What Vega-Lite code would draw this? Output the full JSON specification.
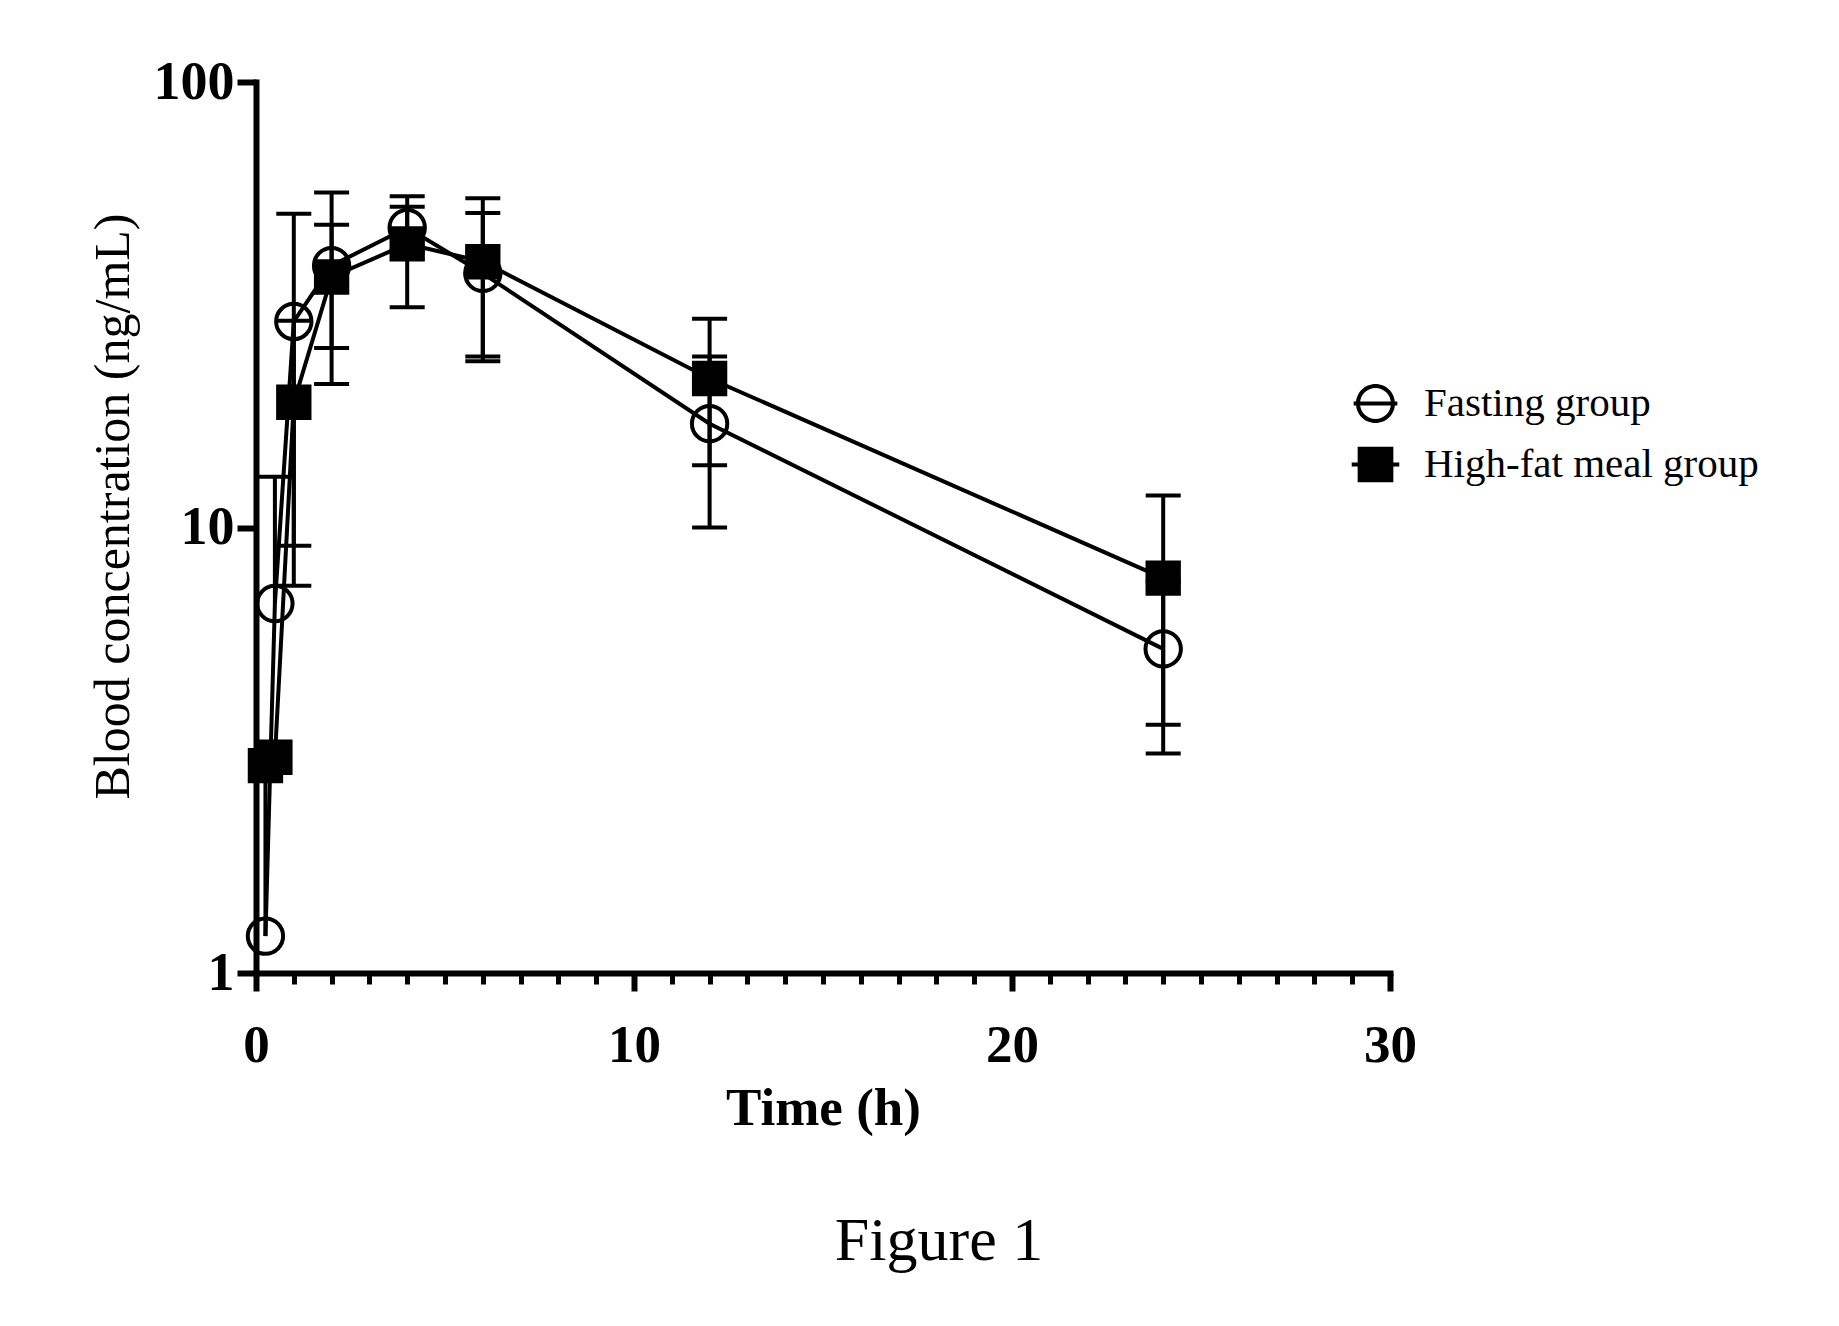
{
  "$schema": "https://vega.github.io/schema/vega-lite/v6.json",
  "width": 1134,
  "height": 891,
  "autosize": {"type": "none"},
  "padding": {"left": 256, "top": 82, "right": 449, "bottom": 353},
  "background": "white",
  "title": {
    "text": "Figure 1",
    "orient": "bottom",
    "anchor": "middle",
    "frame": "group",
    "font": "Liberation Serif",
    "fontSize": 62,
    "fontWeight": "normal",
    "color": "black",
    "baseline": "alphabetic",
    "offset": 125,
    "dx": 116
  },
  "config": {
    "view": {"stroke": null},
    "axis": {
      "grid": false,
      "labelFont": "Liberation Serif",
      "titleFont": "Liberation Serif",
      "labelColor": "black",
      "titleColor": "black",
      "domainColor": "black",
      "tickColor": "black"
    }
  },
  "data": {
    "values": [
      {"group": "Fasting group", "t": 0.25, "mean": 1.21, "lo": null, "hi": 2.72},
      {"group": "Fasting group", "t": 0.5, "mean": 6.75, "lo": null, "hi": 13.0},
      {"group": "Fasting group", "t": 1, "mean": 29.0, "lo": 7.4, "hi": 50.6},
      {"group": "Fasting group", "t": 2, "mean": 38.7, "lo": 21.0, "hi": 56.5},
      {"group": "Fasting group", "t": 4, "mean": 47.1, "lo": 41.7, "hi": 52.5},
      {"group": "Fasting group", "t": 6, "mean": 37.2, "lo": 23.6, "hi": 50.8},
      {"group": "Fasting group", "t": 12, "mean": 17.1, "lo": 10.0, "hi": 24.2},
      {"group": "Fasting group", "t": 24, "mean": 5.34, "lo": 3.11, "hi": 7.57},
      {"group": "High-fat meal group", "t": 0.25, "mean": 2.92, "lo": null, "hi": null},
      {"group": "High-fat meal group", "t": 0.5, "mean": 3.05, "lo": null, "hi": null},
      {"group": "High-fat meal group", "t": 1, "mean": 19.1, "lo": 9.1, "hi": 29.1},
      {"group": "High-fat meal group", "t": 2, "mean": 36.5, "lo": 25.3, "hi": 47.8},
      {"group": "High-fat meal group", "t": 4, "mean": 43.3, "lo": 31.2, "hi": 55.4},
      {"group": "High-fat meal group", "t": 6, "mean": 39.5, "lo": 24.2, "hi": 54.8},
      {"group": "High-fat meal group", "t": 12, "mean": 21.6, "lo": 13.8, "hi": 29.4},
      {"group": "High-fat meal group", "t": 24, "mean": 7.70, "lo": 3.61, "hi": 11.8}
    ]
  },
  "resolve": {"scale": {"shape": "independent"}},
  "layer": [
    {
      "mark": {"type": "line", "color": "black", "strokeWidth": 4},
      "encoding": {
        "x": {
          "field": "t",
          "type": "quantitative",
          "scale": {"domain": [0, 30], "nice": false, "zero": false},
          "axis": {
            "values": [0,1,2,3,4,5,6,7,8,9,10,11,12,13,14,15,16,17,18,19,20,21,22,23,24,25,26,27,28,29,30],
            "tickCount": 100,
            "format": "d",
            "tickSize": {"condition": {"test": "datum.value % 10 === 0", "value": 18}, "value": 11},
            "tickWidth": {"condition": {"test": "datum.value % 10 === 0", "value": 6}, "value": 5},
            "labelExpr": "datum.value % 10 === 0 ? datum.label : ''",
            "labelOverlap": false,
            "labelFlush": false,
            "labelFontSize": 53,
            "labelFontWeight": "bold",
            "labelPadding": 28,
            "domainWidth": 6,
            "domainCap": "square",
            "title": "Time (h)",
            "titleFontSize": 53,
            "titleFontWeight": "bold",
            "titleBaseline": "alphabetic",
            "titleY": 151
          }
        },
        "y": {
          "field": "mean",
          "type": "quantitative",
          "scale": {"type": "log", "domain": [1, 100], "nice": false},
          "axis": {
            "values": [1, 10, 100],
            "format": "d",
            "tickSize": 19,
            "tickWidth": 6,
            "labelFontSize": 54,
            "labelFontWeight": "bold",
            "labelPadding": 3,
            "domainWidth": 6,
            "domainCap": "square",
            "title": "Blood concentration (ng/mL)",
            "titleFontSize": 50,
            "titleFontWeight": "normal",
            "titleAngle": -90,
            "titleAlign": "center",
            "titleBaseline": "alphabetic",
            "titleX": -128,
            "titleY": 424
          }
        },
        "detail": {"field": "group", "type": "nominal"}
      }
    },
    {
      "transform": [{"filter": "isValid(datum.hi)"}],
      "mark": {"type": "rule", "color": "black", "strokeWidth": 4},
      "encoding": {
        "x": {"field": "t", "type": "quantitative"},
        "y": {"field": "mean", "type": "quantitative"},
        "y2": {"field": "hi"}
      }
    },
    {
      "transform": [{"filter": "isValid(datum.lo)"}],
      "mark": {"type": "rule", "color": "black", "strokeWidth": 4},
      "encoding": {
        "x": {"field": "t", "type": "quantitative"},
        "y": {"field": "lo", "type": "quantitative"},
        "y2": {"field": "mean"}
      }
    },
    {
      "transform": [{"filter": "isValid(datum.hi)"}],
      "mark": {"type": "tick", "orient": "horizontal", "size": 35, "thickness": 4, "color": "black", "opacity": 1},
      "encoding": {
        "x": {"field": "t", "type": "quantitative"},
        "y": {"field": "hi", "type": "quantitative"}
      }
    },
    {
      "transform": [{"filter": "isValid(datum.lo)"}],
      "mark": {"type": "tick", "orient": "horizontal", "size": 35, "thickness": 4, "color": "black", "opacity": 1},
      "encoding": {
        "x": {"field": "t", "type": "quantitative"},
        "y": {"field": "lo", "type": "quantitative"}
      }
    },
    {
      "mark": {"type": "point", "filled": true, "fill": "black", "strokeWidth": 4, "size": 1250, "opacity": 1},
      "encoding": {
        "x": {"field": "t", "type": "quantitative"},
        "y": {"field": "mean", "type": "quantitative"},
        "shape": {
          "field": "group",
          "type": "nominal",
          "scale": {"domain": ["Fasting group", "High-fat meal group"], "range": ["circle", "square"]},
          "legend": null
        },
        "fillOpacity": {
          "field": "group",
          "type": "nominal",
          "scale": {"domain": ["Fasting group", "High-fat meal group"], "range": [0, 1]},
          "legend": null
        },
        "stroke": {
          "field": "group",
          "type": "nominal",
          "scale": {"domain": ["Fasting group", "High-fat meal group"], "range": ["black", "transparent"]},
          "legend": null
        }
      }
    },
    {
      "mark": {"type": "point", "filled": true, "fill": "black", "strokeWidth": 0, "size": 1521, "opacity": 0},
      "encoding": {
        "x": {"field": "t", "type": "quantitative"},
        "y": {"field": "mean", "type": "quantitative"},
        "shape": {
          "field": "group",
          "type": "nominal",
          "scale": {
            "domain": ["Fasting group", "High-fat meal group"],
            "range": [
              "M -1 0 A 1 1 0 1 1 1 0 A 1 1 0 1 1 -1 0 Z M -0.795 0 A 0.795 0.795 0 1 0 0.795 0 A 0.795 0.795 0 1 0 -0.795 0 Z M -1.12 -0.1 L 1.12 -0.1 L 1.12 0.1 L -1.12 0.1 Z",
              "M -0.915 -0.915 L 0.915 -0.915 L 0.915 0.915 L -0.915 0.915 Z M -1.22 -0.1 L 1.22 -0.1 L 1.22 0.1 L -1.22 0.1 Z"
            ]
          },
          "legend": {
            "title": null,
            "orient": "none",
            "legendX": 1099,
            "legendY": 301,
            "padding": 0,
            "labelFont": "Liberation Serif",
            "labelFontSize": 41,
            "labelColor": "black",
            "labelLimit": 1000,
            "labelOffset": 28,
            "rowPadding": 19,
            "symbolSize": 1521,
            "symbolOpacity": 1,
            "symbolFillColor": "black",
            "symbolStrokeWidth": 0
          }
        }
      }
    }
  ]
}
